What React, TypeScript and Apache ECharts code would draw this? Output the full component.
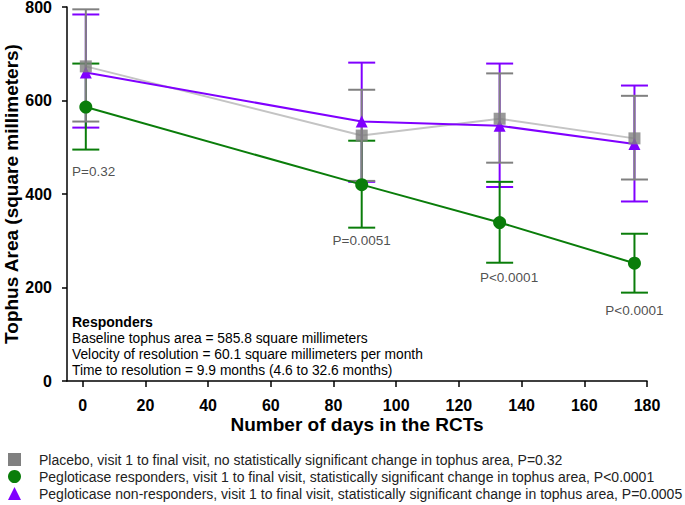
import React, { useEffect, useRef } from "react";
import * as echarts from "echarts";

// ---- data ----
const days = [1, 89, 133, 176];

const placeboMean = [673, 525, 561, 519];
const placeboLow = [555, 428, 467, 431];
const placeboHigh = [795, 623, 658, 610];

const respMean = [586, 420, 339, 252];
const respLow = [495, 328, 253, 189];
const respHigh = [679, 514, 426, 315];

const nonRespMean = [660, 555, 546, 507];
const nonRespLow = [542, 426, 415, 384];
const nonRespHigh = [784, 681, 679, 632];

const xTicks = [0, 20, 40, 60, 80, 100, 120, 140, 160, 180];

const pLabelX = [3.5, 89, 136, 176];
const pLabelY = [448, 300, 221, 150];
const pLabelText = ["P=0.32", "P=0.0051", "P<0.0001", "P<0.0001"];

const placeboName =
  "Placebo, visit 1 to final visit, no statistically significant change in tophus area, P=0.32";
const respName =
  "Pegloticase responders, visit 1 to final visit, statistically significant change in tophus area, P<0.0001";
const nonRespName =
  "Pegloticase non-responders, visit 1 to final visit, statistically significant change in tophus area, P=0.0005";

const noteTitle = "Responders";
const noteLines = [
  "Baseline tophus area = 585.8 square millimeters",
  "Velocity of resolution = 60.1 square millimeters per month",
  "Time to resolution = 9.9 months (4.6 to 32.6 months)",
];

const FONT = "'Liberation Sans', Arial, sans-serif";
const GRAY = "#808080";
const LIGHTGRAY = "#c4c4c4";
const GREEN = "#0a7d0a";
const PURPLE = "#8000ff";

const zip3 = (a: number[], b: number[], c: number[]) => a.map((v, i) => [v, b[i], c[i]]);
const zip2 = (a: number[], b: number[]) => a.map((v, i) => [v, b[i]]);

const errRender = (color: string, capW: number) => (params: any, api: any) => {
  const x = api.value(0);
  const lo = api.value(1);
  const hi = api.value(2);
  const pLo = api.coord([x, lo]);
  const pHi = api.coord([x, hi]);
  const style = { stroke: color, lineWidth: 2 };
  const h = capW / 2;
  return {
    type: "group",
    children: [
      { type: "line", shape: { x1: pHi[0], y1: pHi[1], x2: pLo[0], y2: pLo[1] }, style },
      { type: "line", shape: { x1: pHi[0] - h, y1: pHi[1], x2: pHi[0] + h, y2: pHi[1] }, style },
      { type: "line", shape: { x1: pLo[0] - h, y1: pLo[1], x2: pLo[0] + h, y2: pLo[1] }, style },
    ],
  };
};

export default function App() {
  const ref = useRef<HTMLDivElement>(null);
  useEffect(() => {
    if (!ref.current) return;
    const chart = echarts.init(ref.current, undefined, { renderer: "svg" });
    chart.setOption({
      animation: false,
      backgroundColor: "#ffffff",
      textStyle: { fontFamily: FONT },
      grid: { left: 67, right: 38, top: 7, bottom: 124, containLabel: false, outerBoundsMode: "none" },
      xAxis: {
        type: "value",
        min: -5,
        max: 180,
        name: "Number of days in the RCTs",
        nameLocation: "middle",
        nameGap: 34,
        nameMoveOverlap: false,
        nameTextStyle: { fontSize: 19, fontWeight: "bold", color: "#000", fontFamily: FONT },
        axisLine: { show: true, onZero: false, lineStyle: { color: "#000", width: 1.5 } },
        axisTick: { show: true, length: 6, lineStyle: { color: "#000", width: 1.5 }, customValues: xTicks },
        axisLabel: { fontSize: 16, fontWeight: "bold", color: "#000", margin: 16, fontFamily: FONT, customValues: xTicks },
        splitLine: { show: false },
      },
      yAxis: {
        type: "value",
        min: 0,
        max: 800,
        interval: 200,
        name: "Tophus Area (square millimeters)",
        nameLocation: "middle",
        nameGap: 46,
        nameMoveOverlap: false,
        nameTextStyle: { fontSize: 19, fontWeight: "bold", color: "#000", fontFamily: FONT },
        axisLine: { show: true, onZero: false, lineStyle: { color: "#000", width: 1.5 } },
        axisTick: { show: true, length: 5, lineStyle: { color: "#000", width: 1.5 } },
        axisLabel: { fontSize: 16, fontWeight: "bold", color: "#000", margin: 15, fontFamily: FONT },
        splitLine: { show: false },
      },
      legend: {
        orient: "vertical",
        left: 8,
        top: 451,
        padding: 0,
        itemWidth: 13,
        itemHeight: 13,
        itemGap: 0,
        selectedMode: false,
        textStyle: { fontSize: 14, color: "#222", fontFamily: FONT, lineHeight: 17, padding: [0, 0, 0, 13] },
        data: [
          { name: placeboName, icon: "rect", itemStyle: { color: GRAY } },
          { name: respName, icon: "circle", itemStyle: { color: GREEN } },
          { name: nonRespName, icon: "triangle", itemStyle: { color: PURPLE } },
        ],
      },
      graphic: [
        {
          type: "text",
          left: 72,
          top: 315,
          style: { text: noteTitle, fontSize: 14, fontWeight: "bold", fill: "#000", fontFamily: FONT },
        },
        {
          type: "text",
          left: 72,
          top: 331,
          style: { text: noteLines.join("\n"), fontSize: 13.8, lineHeight: 15.7, fill: "#000", fontFamily: FONT },
        },
      ],
      series: [
        {
          name: placeboName,
          type: "line",
          data: zip2(days, placeboMean),
          showSymbol: false,
          symbol: "none",
          lineStyle: { color: LIGHTGRAY, width: 2 },
          itemStyle: { color: GRAY },
          z: 2,
        },
        {
          name: nonRespName,
          type: "custom",
          renderItem: errRender(PURPLE, 27),
          data: zip3(days, nonRespLow, nonRespHigh),
          encode: { x: 0, y: [1, 2] },
          z: 3,
        },
        {
          name: respName,
          type: "custom",
          renderItem: errRender(GREEN, 27),
          data: zip3(days, respLow, respHigh),
          encode: { x: 0, y: [1, 2] },
          z: 3,
        },
        {
          name: placeboName,
          type: "custom",
          renderItem: errRender(GRAY, 27),
          data: zip3(days, placeboLow, placeboHigh),
          encode: { x: 0, y: [1, 2] },
          z: 4,
        },
        {
          name: nonRespName,
          type: "line",
          data: zip2(days, nonRespMean),
          symbol: "triangle",
          symbolSize: 12,
          lineStyle: { color: PURPLE, width: 2 },
          itemStyle: { color: PURPLE },
          z: 5,
        },
        {
          name: respName,
          type: "line",
          data: zip2(days, respMean),
          symbol: "circle",
          symbolSize: 13,
          lineStyle: { color: GREEN, width: 2 },
          itemStyle: { color: GREEN },
          z: 5,
        },
        {
          name: placeboName,
          type: "scatter",
          data: zip2(days, placeboMean),
          symbol: "rect",
          symbolSize: 12,
          itemStyle: { color: GRAY },
          z: 6,
        },
        {
          name: "pvalues",
          type: "scatter",
          data: pLabelX.map((x, i) => ({ value: [x, pLabelY[i]], label: { formatter: pLabelText[i] } })),
          symbolSize: 0,
          silent: true,
          label: {
            show: true,
            position: "inside",
            fontSize: 13.5,
            color: "#222",
            fontFamily: FONT,
          },
          z: 7,
        },
      ],
    });
    return () => chart.dispose();
  }, []);
  return (
    <div
      ref={ref}
      style={{ position: "absolute", left: 0, top: 0, width: 685, height: 505, background: "#fff" }}
    />
  );
}
